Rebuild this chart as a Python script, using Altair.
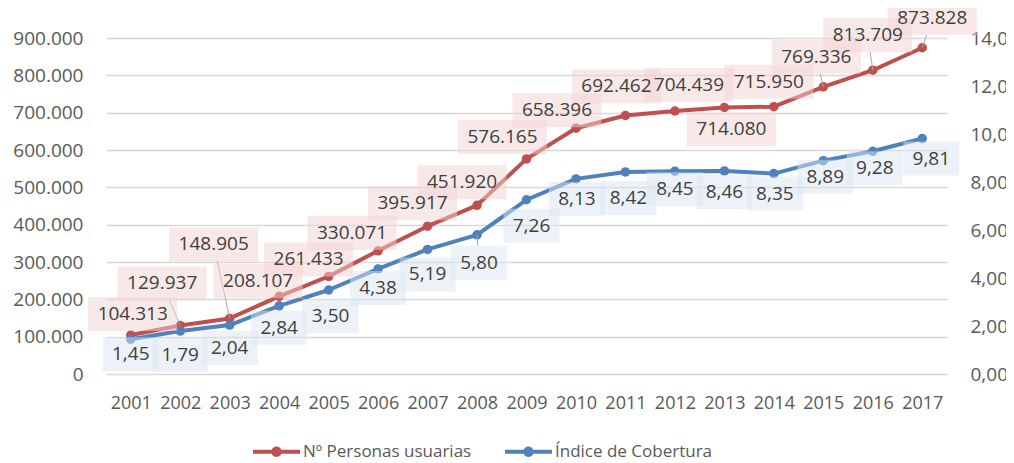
import altair as alt
import pandas as pd

# ---- data ----
years = [str(y) for y in range(2001, 2018)]
usuarias = [104313, 129937, 148905, 208107, 261433, 330071, 395917, 451920,
            576165, 658396, 692462, 704439, 714080, 715950, 769336, 813709, 873828]
cobertura = [1.45, 1.79, 2.04, 2.84, 3.50, 4.38, 5.19, 5.80, 7.26, 8.13,
             8.42, 8.45, 8.46, 8.35, 8.89, 9.28, 9.81]
serie_names = ["Nº Personas usuarias", "Índice de Cobertura"]
left_ticks = [0, 100000, 200000, 300000, 400000, 500000, 600000, 700000, 800000, 900000]
right_ticks = [0, 2, 4, 6, 8, 10, 12, 14]

# ---- label placement (pixel offsets from each point) ----
red_dx = [2, -18, -16, -21, -20, -26, -15, -15, -24, -19, -9, 14, 7, -5, -7, -5, 10]
red_dy = [-21, -42, -74, -15, -17, -18, -23, -23, -22, -18, -29, -26, 22, -25, -30, -35, -30]
red_leader = [0, 1, 1, 0, 0, 0, 0, 0, 0, 0, 0, 0, 0, 0, 1, 1, 1]
blue_dx = [0, 0, 0, 0, 2, 0, 0, 2, 5, 1, 3, 0, 0, 1, 2, 2, 9]
blue_dy = [15, 24, 23, 22, 26, 19, 25, 28, 26, 20, 26, 18, 21, 20, 16, 17, 20]
blue_leader = [0, 0, 0, 0, 0, 0, 0, 1, 0, 0, 0, 0, 0, 0, 0, 0, 0]

RED = "#C0504D"
BLUE = "#4F81BD"
FONT = "Open Sans"
TXT = "#404040"
AX = "#595959"

df_red = pd.DataFrame({"year": years, "v": usuarias, "dx": red_dx, "dy": red_dy,
                       "leader": red_leader, "serie": serie_names[0]})
df_blue = pd.DataFrame({"year": years, "v": cobertura, "dx": blue_dx, "dy": blue_dy,
                        "leader": blue_leader, "serie": serie_names[1]})

RED_W, RED_H = 89, 34
BLUE_W, BLUE_H = 56, 34

X = alt.X("year:O", scale=alt.Scale(type="point", padding=0.5),
          axis=alt.Axis(title=None, labelAngle=0, labelFontSize=18, labelColor=AX,
                        labelFont=FONT, labelPadding=20, ticks=False, domain=False, grid=False))
X2 = alt.X2("year:O")


def y_left(axis=None):
    return alt.Y("v:Q", scale=alt.Scale(domain=[0, 900000], nice=False), axis=axis)


def y_right(axis=None):
    return alt.Y("v:Q", scale=alt.Scale(domain=[0, 14], nice=False), axis=axis)


left_axis = alt.Axis(title=None, values=left_ticks, grid=True, gridColor="#D9D9D9", gridWidth=1.3,
                     ticks=False, domain=False, labelFontSize=19, labelColor=AX, labelFont=FONT,
                     labelPadding=23,
                     labelExpr="replace(format(datum.value, ','), ',', '.')")
right_axis = alt.Axis(title=None, orient="right", values=right_ticks, grid=False, ticks=False,
                      domain=False, labelFontSize=19, labelColor=AX, labelFont=FONT,
                      labelPadding=23,
                      labelExpr="replace(format(datum.value, '.2f'), '.', ',')")

legend_path = ("M-1,-0.09L-0.2,-0.09L-0.2,0.09L-1,0.09Z "
               "M0.2,-0.09L1,-0.09L1,0.09L0.2,0.09Z "
               "M-0.22,0A0.22,0.22 0 1,1 0.22,0A0.22,0.22 0 1,1 -0.22,0Z")

COLOR = alt.Color("serie:N", scale=alt.Scale(domain=serie_names, range=[RED, BLUE]),
                  legend=alt.Legend(title=None, orient="none", direction="horizontal",
                                    legendX=147, legendY=390, symbolType=legend_path,
                                    symbolSize=2209, symbolStrokeWidth=0, symbolOpacity=1,
                                    labelFontSize=17, labelColor=AX, labelFont=FONT,
                                    labelLimit=400, labelOffset=3, columnPadding=33))


def box_path(w, h):
    r = h / w
    return f"M-1,-{r:.3f}L1,-{r:.3f}L1,{r:.3f}L-1,{r:.3f}Z"


def series_layers(df, yfn, axis, color, w, h, label_expr, box_fill):
    base = alt.Chart(df)
    line = base.mark_line(color=color, strokeWidth=4, strokeJoin="round").encode(x=X, y=yfn(axis))
    pts = base.mark_circle(size=90, opacity=1).encode(x=X, y=yfn(), color=COLOR)
    lead = base.transform_filter("datum.leader == 1").transform_calculate(
        t=f"min({w/2}/max(abs(datum.dx),0.01), {h/2}/max(abs(datum.dy),0.01))"
    ).transform_calculate(
        ex="datum.dx*(1-datum.t)", ey="datum.dy*(1-datum.t)"
    ).mark_rule(color="#A6A6A6", strokeWidth=1,
                x2Offset=alt.ExprRef(expr="datum.ex"),
                y2Offset=alt.ExprRef(expr="datum.ey")).encode(
        x=X, y=yfn(), x2=X2, y2=alt.Y2("v:Q"))
    boxes = base.mark_point(shape=box_path(w, h), filled=True, size=w * w, color=box_fill,
                            opacity=0.5, strokeWidth=0,
                            xOffset=alt.ExprRef(expr="datum.dx"),
                            yOffset=alt.ExprRef(expr="datum.dy")).encode(x=X, y=yfn())
    text = base.transform_calculate(label=label_expr).mark_text(
        font=FONT, fontSize=19, color=TXT, align="center", baseline="middle",
        dx=alt.ExprRef(expr="datum.dx"), dy=alt.ExprRef(expr="datum.dy")
    ).encode(x=X, y=yfn(), text="label:N")
    return line, pts, lead, boxes, text


r_line, r_pts, r_lead, r_box, r_txt = series_layers(
    df_red, y_left, left_axis, RED, RED_W, RED_H,
    "replace(format(datum.v, ','), ',', '.')", "#F2D3D2")
b_line, b_pts, b_lead, b_box, b_txt = series_layers(
    df_blue, y_right, right_axis, BLUE, BLUE_W, BLUE_H,
    "replace(format(datum.v, '.2f'), '.', ',')", "#DCE6F2")

chart = alt.layer(
    r_line, r_pts, b_line, b_pts, r_lead, b_lead, r_box, r_txt, b_box, b_txt
).resolve_scale(y="independent").properties(
    width=841, height=336,
    autosize=alt.AutoSizeParams(type="none"),
    padding={"left": 98, "top": 30, "right": 59, "bottom": 89},
).configure_view(stroke=None)

chart.save("out.html", embed_options={"renderer": "svg", "actions": False})
